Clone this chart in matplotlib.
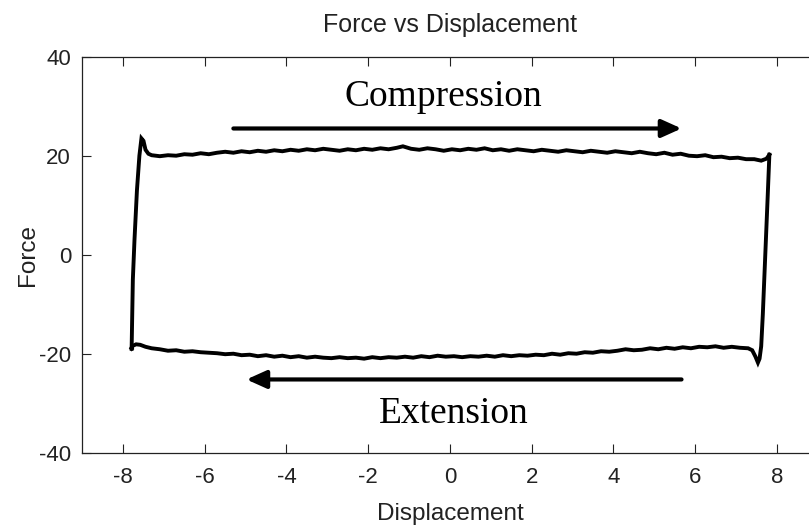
import matplotlib
matplotlib.use("Agg")
import matplotlib.pyplot as plt

# upper branch (compression), left -> right
upper_x = [-7.79, -7.76, -7.72, -7.66, -7.60, -7.55, -7.50, -7.45, -7.38, -7.30,
           -7.10, -6.90, -6.70, -6.50, -6.30, -6.10, -5.90, -5.70, -5.50, -5.30,
           -5.10, -4.90, -4.70, -4.50, -4.30, -4.10, -3.90, -3.70, -3.50, -3.30,
           -3.10, -2.90, -2.70, -2.50, -2.30, -2.10, -1.90, -1.70, -1.50, -1.30,
           -1.15, -0.95, -0.75, -0.55, -0.35, -0.15, 0.05, 0.25, 0.45, 0.65,
           0.85, 1.05, 1.25, 1.45, 1.65, 1.85, 2.05, 2.25, 2.45, 2.65,
           2.85, 3.05, 3.25, 3.45, 3.65, 3.85, 4.05, 4.25, 4.45, 4.65,
           4.85, 5.05, 5.25, 5.45, 5.65, 5.85, 6.05, 6.25, 6.45, 6.65,
           6.85, 7.05, 7.25, 7.45, 7.62, 7.75, 7.82]
upper_f = [-19.0, -5.0, 3.0, 13.0, 20.0, 23.5, 23.0, 21.2, 20.4, 20.1,
           19.9, 20.1, 20.0, 20.3, 20.2, 20.5, 20.3, 20.6, 20.8, 20.6,
           20.9, 20.7, 21.0, 20.8, 21.1, 20.9, 21.2, 21.0, 21.3, 21.1,
           21.4, 21.2, 21.0, 21.3, 21.1, 21.4, 21.2, 21.5, 21.3, 21.6,
           21.9, 21.4, 21.2, 21.5, 21.3, 21.0, 21.3, 21.1, 21.4, 21.2,
           21.5, 21.1, 21.3, 21.0, 21.3, 21.1, 20.9, 21.2, 21.0, 20.8,
           21.1, 20.9, 20.7, 21.0, 20.8, 20.6, 20.9, 20.7, 20.5, 20.8,
           20.5, 20.3, 20.6, 20.2, 20.4, 20.0, 19.9, 20.1, 19.7, 19.8,
           19.5, 19.6, 19.3, 19.3, 19.0, 19.4, 20.2]

# right side and lower branch (extension), right -> left
lower_x = [7.82, 7.78, 7.74, 7.70, 7.66, 7.62, 7.58, 7.54, 7.48, 7.40,
           7.30, 7.10, 6.90, 6.70, 6.50, 6.30, 6.10, 5.90, 5.70, 5.50,
           5.30, 5.10, 4.90, 4.70, 4.50, 4.30, 4.10, 3.90, 3.70, 3.50,
           3.30, 3.10, 2.90, 2.70, 2.50, 2.30, 2.10, 1.90, 1.70, 1.50,
           1.30, 1.10, 0.90, 0.70, 0.50, 0.30, 0.10, -0.10, -0.30, -0.50,
           -0.70, -0.90, -1.10, -1.30, -1.50, -1.70, -1.90, -2.10, -2.30, -2.50,
           -2.70, -2.90, -3.10, -3.30, -3.50, -3.70, -3.90, -4.10, -4.30, -4.50,
           -4.70, -4.90, -5.10, -5.30, -5.50, -5.70, -5.90, -6.10, -6.30, -6.50,
           -6.70, -6.90, -7.10, -7.30, -7.45, -7.58, -7.68, -7.76, -7.80, -7.79]
lower_f = [20.2, 12.0, 4.0, -4.0, -12.0, -18.5, -21.0, -21.8, -20.6, -19.3,
           -18.9, -18.8, -18.6, -18.8, -18.5, -18.7, -18.6, -18.9, -18.7, -19.0,
           -18.8, -19.1, -18.9, -19.2, -19.3, -19.1, -19.4, -19.6, -19.5, -19.8,
           -19.7, -20.0, -19.9, -20.2, -20.0, -20.3, -20.2, -20.4, -20.3, -20.5,
           -20.3, -20.6, -20.4, -20.6, -20.5, -20.7, -20.5, -20.6, -20.4, -20.7,
           -20.5, -20.8, -20.6, -20.8, -20.7, -20.9, -20.7, -21.0, -20.8, -20.9,
           -20.7, -20.9, -20.8, -20.6, -20.8, -20.5, -20.7, -20.4, -20.6, -20.3,
           -20.5, -20.2, -20.3, -20.0, -20.1, -19.9, -19.8, -19.7, -19.5, -19.6,
           -19.3, -19.4, -19.1, -18.9, -18.6, -18.2, -18.1, -18.4, -18.9, -19.0]

x_ticks = [-8, -6, -4, -2, 0, 2, 4, 6, 8]
y_ticks = [-40, -20, 0, 20, 40]

plt.rcParams['axes.unicode_minus'] = False
plt.rcParams['font.family'] = ['Liberation Sans', 'DejaVu Sans']

fig = plt.figure(figsize=(8.09, 5.29), dpi=100)
ax = fig.add_axes([0.1016, 0.1442, 0.909, 0.7486])

ax.plot(upper_x, upper_f, color='black', lw=2.8, solid_joinstyle='miter')
ax.plot(lower_x, lower_f, color='black', lw=2.8, solid_joinstyle='miter')

ax.set_xlim(-9, 9)
ax.set_ylim(-40, 40)
ax.set_xticks(x_ticks)
ax.set_yticks(y_ticks)
ax.tick_params(direction='in', length=6.5, width=0.8, top=True, right=True,
               labelsize=16, colors='#222222', pad=8)
ax.tick_params(axis='x', pad=10)
for sp in ax.spines.values():
    sp.set_linewidth(0.9)
    sp.set_color('#222222')

ax.set_title('Force vs Displacement', fontsize=18, pad=18, color='#222222')
ax.set_xlabel('Displacement', fontsize=17.5, labelpad=11, color='#222222')
ax.set_ylabel('Force', fontsize=17.5, labelpad=0, color='#222222')

arrow_style = dict(arrowstyle='-|>,head_length=0.6,head_width=0.27', lw=3,
                   color='black', mutation_scale=20, shrinkA=0, shrinkB=0)
ax.annotate('', xy=(5.67, 25.5), xytext=(-5.3, 25.5), arrowprops=arrow_style)
ax.annotate('', xy=(-4.98, -25.2), xytext=(5.67, -25.2), arrowprops=arrow_style)

ax.text(-0.15, 30.0, 'Compression', fontsize=27, family='Liberation Serif',
        ha='center', va='baseline')
ax.text(0.1, -34.0, 'Extension', fontsize=27, family='Liberation Serif',
        ha='center', va='baseline')

fig.savefig('out.png', dpi=100)
